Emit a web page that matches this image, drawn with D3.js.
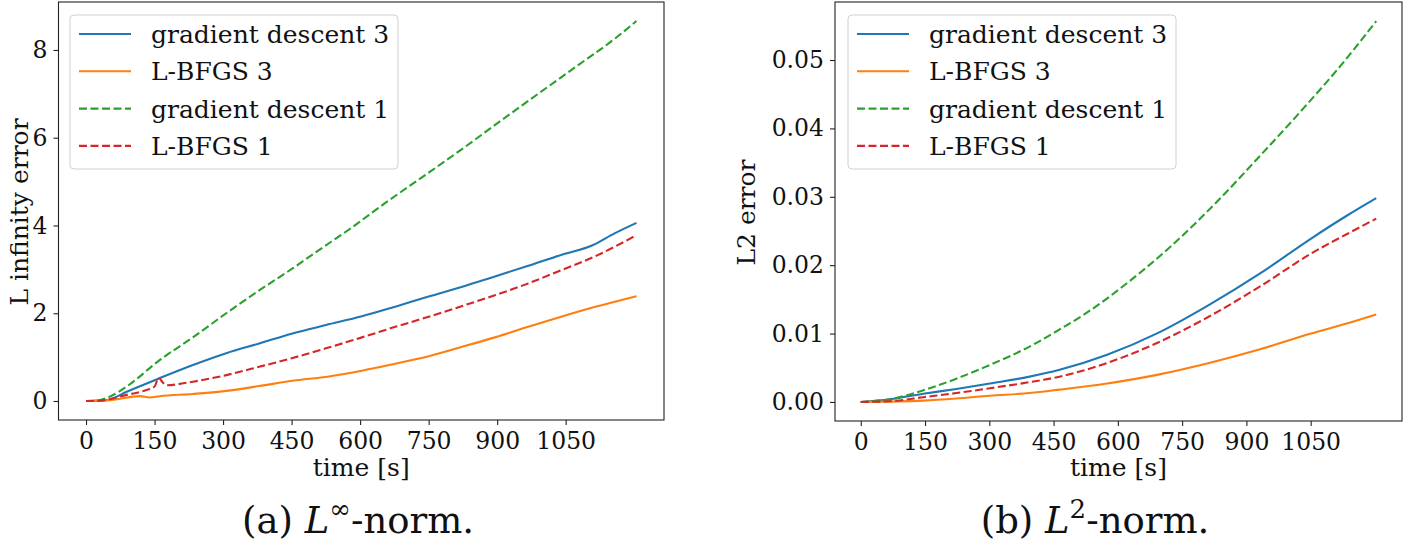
<!DOCTYPE html>
<html>
<head>
<meta charset="utf-8">
<script src="https://cdn.jsdelivr.net/npm/d3@7"></script>
<style>
html,body{margin:0;padding:0;background:#fff;}
svg{display:block;}
</style>
</head>
<body>
<script>
// ---------- data ----------
const seriesNames = ["gradient descent 3", "L-BFGS 3", "gradient descent 1", "L-BFGS 1"];
const seriesColors = ["#1f77b4", "#ff7f0e", "#2ca02c", "#d62728"];
const seriesDashed = [false, false, true, true];
const xTicks = [0, 150, 300, 450, 600, 750, 900, 1050];
const yTicksInf = [0, 2, 4, 6, 8];
const yTicksL2 = [0, 0.01, 0.02, 0.03, 0.04, 0.05];

// (a) L-infinity
const infGd3T = [0,45,89,161,234,307,379,452,525,604,677,750,822,895,968,1040,1109,1157,1205];
const infGd3V = [0,0.02,0.21,0.52,0.82,1.09,1.31,1.54,1.73,1.93,2.15,2.38,2.60,2.84,3.08,3.33,3.55,3.82,4.06];
const infLb3T = [0,52,118,139,161,234,307,379,452,532,604,677,750,822,895,968,1040,1113,1205];
const infLb3V = [0,0.02,0.11,0.08,0.11,0.16,0.23,0.34,0.46,0.56,0.69,0.85,1.02,1.23,1.45,1.69,1.92,2.14,2.39];
const infGd1T = [0,16,52,89,161,234,307,379,452,510,572,656,740,823,907,991,1074,1158,1205];
const infGd1V = [0,0,0.10,0.33,0.93,1.45,2.00,2.52,3.02,3.44,3.88,4.52,5.13,5.74,6.38,7.01,7.63,8.26,8.66];
const infLb1T = [0,21,89,132,150,159,168,176,234,307,379,452,525,604,677,750,822,895,968,1040,1113,1205];
const infLb1V = [0,0,0.14,0.25,0.33,0.53,0.42,0.36,0.44,0.59,0.78,0.98,1.20,1.45,1.69,1.92,2.16,2.41,2.68,2.98,3.29,3.78];

// (b) L2
const l2Gd3T = [0,68,146,223,301,394,464,575,694,813,932,1051,1136,1203];
const l2Gd3V = [0,0.0004,0.0012,0.0019,0.0027,0.0037,0.0047,0.0069,0.0101,0.0142,0.0188,0.0239,0.0273,0.0298];
const l2Lb3T = [0,146,223,301,394,464,575,694,813,932,1051,1136,1203];
const l2Lb3V = [0,0.0002,0.0005,0.0009,0.0013,0.0018,0.0027,0.0040,0.0057,0.0077,0.0100,0.0115,0.0128];
const l2Gd1T = [0,68,146,223,301,394,464,524,626,728,830,932,1034,1119,1203];
const l2Gd1V = [0,0.0004,0.0017,0.0034,0.0054,0.0081,0.0106,0.0129,0.0176,0.0230,0.0292,0.0360,0.0430,0.0491,0.0557];
const l2Lb1T = [0,68,146,223,301,394,464,575,694,813,932,1051,1136,1203];
const l2Lb1V = [0,0.0001,0.0007,0.0013,0.0020,0.0029,0.0037,0.0057,0.0087,0.0125,0.0169,0.0217,0.0246,0.0268];

// ---------- drawing ----------
const W = 1405, H = 553;
const svg = d3.select("body").append("svg").attr("width", W).attr("height", H)
  .style("background", "#fff");

const serif = "'DejaVu Serif', serif";
const tickSize = "23.5px", labelSize = "25px", legendSize = "25px";

function zip(t, v) { return t.map((x, i) => ({x, y: v[i]})); }

function panel(opt) {
  const {left, right, top, bottom, series, yTicks, yFmt, yLabel, yLabelX, caption, captionX} = opt;
  const allX = series.flatMap(s => s.t), allY = series.flatMap(s => s.v);
  const xmin = d3.min(allX), xmax = d3.max(allX), ymin = d3.min(allY), ymax = d3.max(allY);
  const xr = xmax - xmin, yr = ymax - ymin;
  const x = d3.scaleLinear().domain([xmin - 0.05 * xr, xmax + 0.05 * xr]).range([left, right]);
  const y = d3.scaleLinear().domain([ymin - 0.05 * yr, ymax + 0.05 * yr]).range([bottom, top]);

  const g = svg.append("g");
  const clipId = "clip" + Math.round(left);
  g.append("clipPath").attr("id", clipId).append("rect")
    .attr("x", left).attr("y", top).attr("width", right - left).attr("height", bottom - top);

  const line = d3.line().x(d => x(d.x)).y(d => y(d.y)).curve(d3.curveMonotoneX);
  series.forEach(s => {
    g.append("path").datum(zip(s.t, s.v))
      .attr("clip-path", `url(#${clipId})`)
      .attr("fill", "none").attr("stroke", s.color).attr("stroke-width", 2.1)
      .attr("stroke-linejoin", "round")
      .attr("stroke-dasharray", s.dashed ? "8,3.5" : null)
      .attr("d", line);
  });

  // axes
  const xAxis = d3.axisBottom(x).tickValues(xTicks).tickFormat(d3.format("d"))
    .tickSize(5).tickPadding(5).tickSizeOuter(0);
  const gx = g.append("g").attr("transform", `translate(0,${bottom})`).call(xAxis);
  const yAxis = d3.axisLeft(y).tickValues(yTicks).tickFormat(yFmt).tickSize(5).tickPadding(6).tickSizeOuter(0);
  const gy = g.append("g").attr("transform", `translate(${left},0)`).call(yAxis);
  [gx, gy].forEach(a => {
    a.select(".domain").remove();
    a.selectAll(".tick line").attr("stroke", "#222").attr("stroke-width", 1.1);
    a.selectAll(".tick text").attr("fill", "#111").style("font-family", serif).style("font-size", tickSize);
  });
  gx.selectAll(".tick text").attr("dy", "0.8em");

  // frame
  g.append("rect").attr("x", left).attr("y", top).attr("width", right - left).attr("height", bottom - top)
    .attr("fill", "none").attr("stroke", "#222").attr("stroke-width", 1.1);

  // labels
  g.append("text").attr("x", (left + right) / 2).attr("y", 476).attr("text-anchor", "middle")
    .style("font-family", serif).style("font-size", labelSize).attr("fill", "#111").text("time [s]");
  g.append("text").attr("transform", `translate(${yLabelX},${(top + bottom) / 2 + 1}) rotate(-90)`)
    .attr("text-anchor", "middle").attr("dy", "0.35em")
    .style("font-family", serif).style("font-size", labelSize).attr("fill", "#111").text(yLabel);

  // legend
  const lx = opt.legendX, ly = 15, lw = 328, lh = 154;
  g.append("rect").attr("x", lx).attr("y", ly).attr("width", lw).attr("height", lh).attr("rx", 4)
    .attr("fill", "#fff").attr("fill-opacity", 0.8).attr("stroke", "#d0d0d0").attr("stroke-width", 1);
  series.forEach((s, i) => {
    const cy = ly + 19 + i * 37.3;
    g.append("line").attr("x1", lx + 9).attr("x2", lx + 61).attr("y1", cy).attr("y2", cy)
      .attr("stroke", s.color).attr("stroke-width", 2.1).attr("stroke-dasharray", s.dashed ? "8,3.5" : null);
    g.append("text").attr("x", lx + 81).attr("y", cy).attr("dy", "0.36em")
      .style("font-family", serif).style("font-size", legendSize).attr("fill", "#111").text(s.name);
  });

  // caption
  const cap = g.append("text").attr("x", captionX).attr("y", 533).attr("text-anchor", "middle")
    .style("font-family", serif).style("font-size", "37px").attr("fill", "#111");
  cap.append("tspan").text(caption[0] + " ");
  cap.append("tspan").style("font-style", "italic").text("L");
  cap.append("tspan").attr("dy", -15).style("font-size", "26px").text(caption[1]);
  cap.append("tspan").attr("dy", 15).text(caption[2]);
}

function mk(ts, vs) {
  return ts.map((t, i) => ({name: seriesNames[i], color: seriesColors[i], dashed: seriesDashed[i], t, v: vs[i]}));
}

panel({
  left: 58.5, right: 664, top: 2, bottom: 420,
  series: mk([infGd3T, infLb3T, infGd1T, infLb1T], [infGd3V, infLb3V, infGd1V, infLb1V]),
  yTicks: yTicksInf, yFmt: d3.format("d"), yLabel: "L infinity error", yLabelX: 19,
  legendX: 70, caption: ["(a)", "\u221E", "-norm."], captionX: 358
});
panel({
  left: 835, right: 1402, top: 2, bottom: 421,
  series: mk([l2Gd3T, l2Lb3T, l2Gd1T, l2Lb1T], [l2Gd3V, l2Lb3V, l2Gd1V, l2Lb1V]),
  yTicks: yTicksL2, yFmt: d3.format(".2f"), yLabel: "L2 error", yLabelX: 746,
  legendX: 848, caption: ["(b)", "2", "-norm."], captionX: 1095
});
</script>
</body>
</html>
